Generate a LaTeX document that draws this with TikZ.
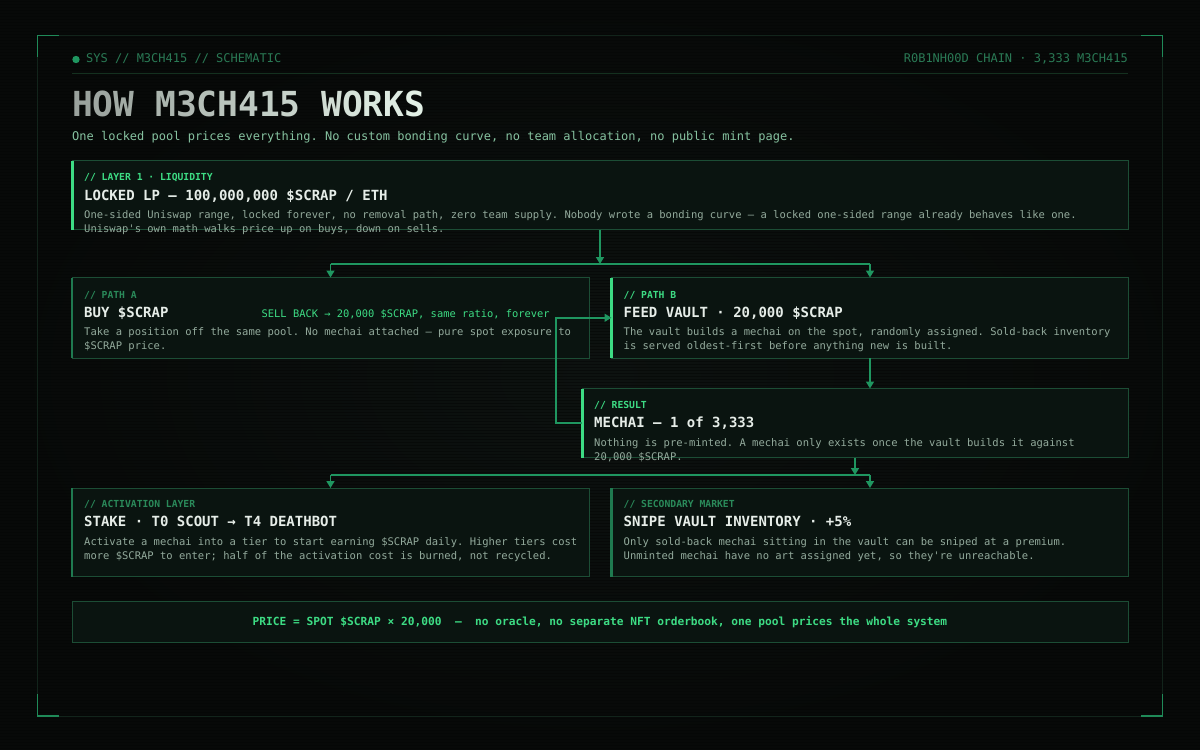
\documentclass[tikz,border=0pt]{standalone}
\usepackage{fontspec}
\setmonofont{DejaVu Sans Mono}
\usetikzlibrary{arrows.meta}
\definecolor{bg}{HTML}{070908}
\definecolor{bgc}{HTML}{0D1210}
\definecolor{scanc}{HTML}{050706}
\definecolor{boxfill}{HTML}{0A1410}
\definecolor{boxline}{HTML}{1C4D35}
\definecolor{accent}{HTML}{3DDC84}
\definecolor{accentdim}{HTML}{1F7A50}
\definecolor{connc}{HTML}{1F9660}
\definecolor{lbldim}{HTML}{2A8A5A}
\definecolor{titlec}{HTML}{E6EDE8}
\definecolor{bodyc}{HTML}{93AA9C}
\definecolor{hdr}{HTML}{2A7A55}
\definecolor{framec}{HTML}{12241B}
\definecolor{framebr}{HTML}{1F8A58}
\definecolor{subc}{HTML}{86C2A0}
\definecolor{sepc}{HTML}{14301F}
\definecolor{titleL}{HTML}{E2F0E6}
\definecolor{titleG}{HTML}{9AA29D}
\newcommand{\gl}[2]{\textcolor{titleL!#1!titleG}{#2}}
\tikzset{
  card/.style={draw=boxline, line width=0.9pt, fill=boxfill, anchor=north west, inner sep=0pt, outer sep=0pt, rectangle},
  lbl/.style={anchor=base west, inner sep=0pt, font=\ttfamily\bfseries\fontsize{9.7}{12}\selectfont},
  ttl/.style={anchor=base west, inner sep=0pt, text=titlec, font=\ttfamily\bfseries\fontsize{14}{16}\selectfont},
  bdy/.style={anchor=base west, inner sep=0pt, text=bodyc, font=\ttfamily\fontsize{10.5}{14}\selectfont},
  conn/.style={draw=connc, line width=1.5pt},
  arr/.style={-{Triangle[width=8pt,length=7pt]}},
  barhi/.style={draw=accent, line width=3pt},
  barlo/.style={draw=accentdim, line width=2.4pt},
  scanline/.style={draw=scanc, line width=1pt, opacity=0.6},
}
\begin{document}
\begin{tikzpicture}[x=1pt,y=-1pt]
\useasboundingbox (0,0) rectangle (1200,750);
\fill[bg] (0,0) rectangle (1200,750);
\shade[inner color=bgc, outer color=bg] (0,0) rectangle (1200,750);
\foreach \yy in {1.5,4.5,...,750} {\draw[scanline] (0,\yy) -- (1200,\yy);}

% frame
\draw[framec, line width=1pt] (37.5,35.5) rectangle (1162.5,716);
\draw[framebr, line width=1.6pt] (37.5,57) -- (37.5,35.5) -- (59,35.5);
\draw[framebr, line width=1.6pt] (1141,35.5) -- (1162.5,35.5) -- (1162.5,57);
\draw[framebr, line width=1.6pt] (37.5,694) -- (37.5,716) -- (59,716);
\draw[framebr, line width=1.6pt] (1141,716) -- (1162.5,716) -- (1162.5,694);

% header
\fill[connc] (76,59.5) circle (3.7);
\node[anchor=base west, inner sep=0pt, text=hdr, font=\ttfamily\fontsize{12}{14}\selectfont] (hdrL) at (86,62.5) {SYS // M3CH415 // SCHEMATIC};
\node[anchor=base east, inner sep=0pt, text=hdr, font=\ttfamily\fontsize{12}{14}\selectfont] (hdrR) at (1128,62.5) {R0B1NH00D CHAIN · 3,333 M3CH415};
\draw[sepc, line width=1pt] (72,73) -- (1128,73);

\node[anchor=base west, inner sep=0pt, font=\ttfamily\bfseries\fontsize{34.5}{38}\selectfont] (title) at (72,116.5)
 {\gl{0}{H}\gl{5}{O}\gl{11}{W} \gl{24}{M}\gl{30}{3}\gl{37}{C}\gl{43}{H}\gl{50}{4}\gl{56}{1}\gl{62}{5} \gl{76}{W}\gl{82}{O}\gl{88}{R}\gl{94}{K}\gl{100}{S}};
\node[anchor=base west, inner sep=0pt, text=subc, font=\ttfamily\fontsize{12}{14}\selectfont] (subtitle) at (72,140.5)
 {One locked pool prices everything. No custom bonding curve, no team allocation, no public mint page.};

% cards
\node[card, minimum width=1056, minimum height=69] (l1) at (72,160.5) {};
\node[card, minimum width=517, minimum height=80.5] (pa) at (72,277.5) {};
\node[card, minimum width=516.5, minimum height=80.5] (pb) at (611.5,277.5) {};
\node[card, minimum width=546, minimum height=69] (res) at (582,388.5) {};
\node[card, minimum width=517, minimum height=88.5] (act) at (72,488) {};
\node[card, minimum width=516.5, minimum height=88.5] (sec) at (611.5,488) {};
\node[card, minimum width=1056, minimum height=40.5] (foot) at (72,601.5) {};

% accent bars
\draw[barhi] (l1.north west) -- (l1.south west);
\draw[barlo] (pa.north west) -- (pa.south west);
\draw[barhi] (pb.north west) -- (pb.south west);
\draw[barhi] (res.north west) -- (res.south west);
\draw[barlo] (act.north west) -- (act.south west);
\draw[barlo] (sec.north west) -- (sec.south west);

% connectors
\coordinate (s1) at (600,264);
\coordinate (s1a) at (330.5,264);
\coordinate (s1b) at (870,264);
\draw[conn, arr] (l1.south) -- (s1);
\draw[conn] (s1a) -- (s1b);
\draw[conn, arr] (s1a) -- (s1a |- pa.north);
\draw[conn, arr] (s1b) -- (s1b |- pb.north);
\coordinate (pbout) at (870,358);
\draw[conn, arr] (pbout) -- (pbout |- res.north);
\draw[conn, arr] (res.west) -- ++(-26,0) |- (pb.west);
\coordinate (s2) at (855,475);
\coordinate (s2a) at (330.5,475);
\coordinate (s2b) at (870,475);
\draw[conn, arr] (res.south) -- (s2);
\draw[conn] (s2a) -- (s2b);
\draw[conn, arr] (s2a) -- (s2a |- act.north);
\draw[conn, arr] (s2b) -- (s2b |- sec.north);

% texts: layer 1
\node[lbl, text=accent] (l1-l) at (84,180.5) {// LAYER 1 · LIQUIDITY};
\node[ttl] (l1-t) at (84,200) {LOCKED LP — 100,000,000 \$SCRAP / ETH};
\node[bdy] (l1-b1) at (84,218) {One-sided Uniswap range, locked forever, no removal path, zero team supply. Nobody wrote a bonding curve — a locked one-sided range already behaves like one.};
\node[bdy] (l1-b2) at (84,232) {Uniswap's own math walks price up on buys, down on sells.};

% path A
\node[lbl, text=lbldim] (pa-l) at (84,298) {// PATH A};
\node[ttl] (pa-t) at (84,317) {BUY \$SCRAP};
\node[bdy] (pa-b1) at (84,335) {Take a position off the same pool. No mechai attached — pure spot exposure to};
\node[bdy] (pa-b2) at (84,349) {\$SCRAP price.};
\node[anchor=base west, inner sep=0pt, text=accent, font=\ttfamily\fontsize{10.4}{12}\selectfont] (sell) at (261.5,317) {SELL BACK → 20,000 \$SCRAP, same ratio, forever};

% path B
\node[lbl, text=accent] (pb-l) at (623.5,298) {// PATH B};
\node[ttl] (pb-t) at (623.5,317) {FEED VAULT · 20,000 \$SCRAP};
\node[bdy] (pb-b1) at (623.5,335) {The vault builds a mechai on the spot, randomly assigned. Sold-back inventory};
\node[bdy] (pb-b2) at (623.5,349) {is served oldest-first before anything new is built.};

% result
\node[lbl, text=accent] (res-l) at (594,408.5) {// RESULT};
\node[ttl] (res-t) at (594,427.5) {MECHAI — 1 of 3,333};
\node[bdy] (res-b1) at (594,446) {Nothing is pre-minted. A mechai only exists once the vault builds it against};
\node[bdy] (res-b2) at (594,460) {20,000 \$SCRAP.};

% activation
\node[lbl, text=lbldim] (act-l) at (84,507.5) {// ACTIVATION LAYER};
\node[ttl] (act-t) at (84,526.5) {STAKE · T0 SCOUT → T4 DEATHBOT};
\node[bdy] (act-b1) at (84,545.5) {Activate a mechai into a tier to start earning \$SCRAP daily. Higher tiers cost};
\node[bdy] (act-b2) at (84,559.5) {more \$SCRAP to enter; half of the activation cost is burned, not recycled.};

% secondary
\node[lbl, text=lbldim] (sec-l) at (623.5,507.5) {// SECONDARY MARKET};
\node[ttl] (sec-t) at (623.5,526.5) {SNIPE VAULT INVENTORY · +5\%};
\node[bdy] (sec-b1) at (623.5,545.5) {Only sold-back mechai sitting in the vault can be sniped at a premium.};
\node[bdy] (sec-b2) at (623.5,559.5) {Unminted mechai have no art assigned yet, so they're unreachable.};

% footer
\node[anchor=base, inner sep=0pt, text=accent, font=\ttfamily\bfseries\fontsize{11.2}{13}\selectfont] (foot-t) at (600,625) {PRICE = SPOT \$SCRAP × 20,000~~—~~no oracle, no separate NFT orderbook, one pool prices the whole system};
\end{tikzpicture}
\end{document}
